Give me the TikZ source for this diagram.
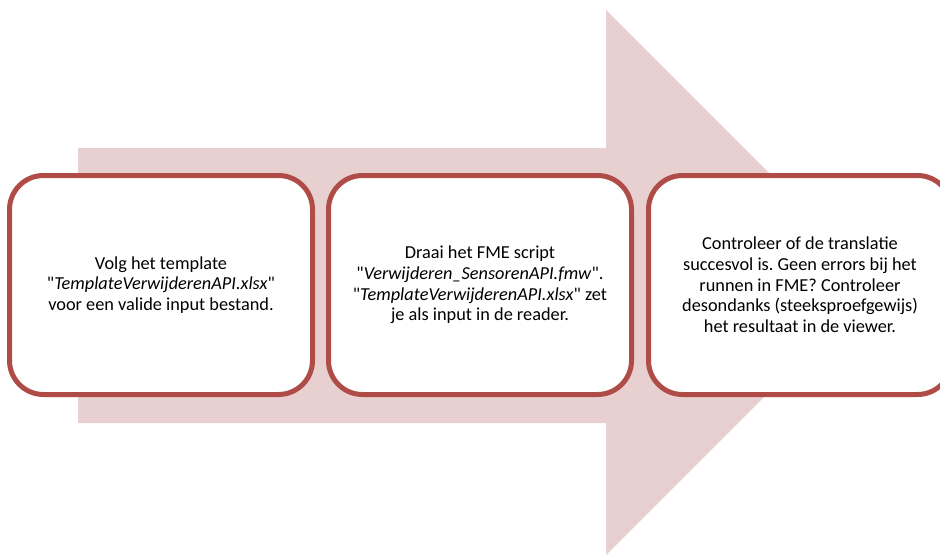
\documentclass[tikz,border=0pt]{standalone}
\usepackage{fontspec}
\setmainfont{Carlito}[Ligatures=TeXOff]
\frenchspacing
\definecolor{arrowfill}{RGB}{232,208,208}
\definecolor{boxline}{RGB}{176,76,72}
\begin{document}
\begin{tikzpicture}[x=1pt,y=-1pt,
  stepbox/.style={draw=boxline, line width=5pt, fill=white, rounded corners=34pt,
    minimum width=303pt, minimum height=219pt, align=center, inner sep=0pt,
    font=\fontsize{18.3}{20.7}\selectfont}]
\useasboundingbox (0,0) rectangle (940,555);
\clip (0,0) rectangle (940,555);
\fill[arrowfill] (78,148) -- (606,148) -- (606,10) -- (878.5,282.5) -- (606,555) -- (606,423) -- (78,423) -- cycle;
\node[stepbox] (b1) at (161,285) {Volg het template\\"\textit{TemplateVerwijderenAPI.xlsx}"\\voor een valide input bestand.};
\node[stepbox] (b2) at (480,285) {Draai het FME script\\"\textit{Verwijderen\_SensorenAPI.fmw}".\\"\textit{TemplateVerwijderenAPI.xlsx}" zet\\je als input in de reader.};
\node[stepbox] (b3) at (800,285) {Controleer of de translatie\\succesvol is. Geen errors bij het\\runnen in FME? Controleer\\desondanks (steeksproefgewijs)\\het resultaat in de viewer.};
\end{tikzpicture}
\end{document}
